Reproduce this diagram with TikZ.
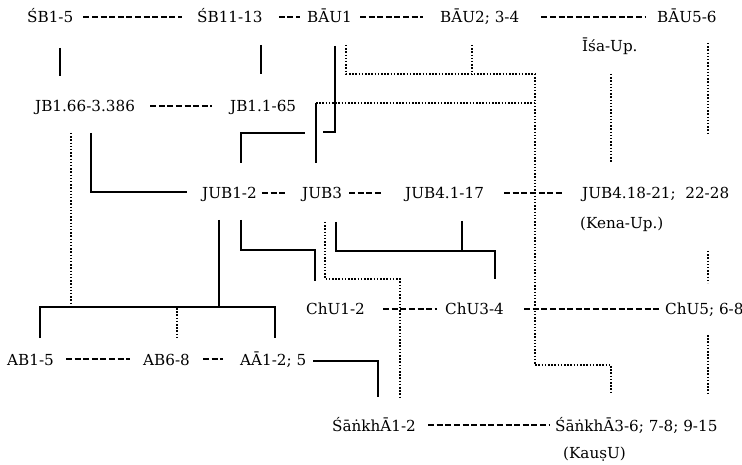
\documentclass[tikz,border=0pt]{standalone}
\usepackage{fontspec}
\setmainfont{DejaVu Serif}
\begin{document}
\begin{tikzpicture}[x=1pt,y=-1pt,
  txt/.style={inner sep=0pt, anchor=base west, font=\fontsize{15.2}{18}\selectfont},
  dsh/.style={line width=1.2pt, dash pattern=on 6pt off 2.6pt},
  sol/.style={line width=1.2pt},
  dot/.style={line width=1.7pt, dash pattern=on 1.5pt off 1.7pt}]
\useasboundingbox (0,0) rectangle (742,465);
% nodes
\node[txt] (sb1)  at (27,23)  {ŚB1-5};
\node[txt] (sb11) at (197,23) {ŚB11-13};
\node[txt] (bau1) at (307,23) {BĀU1};
\node[txt] (bau2) at (440,23) {BĀU2; 3-4};
\node[txt] (bau5) at (657,23) {BĀU5-6};
\node[txt] (isa)  at (582,52) {Īśa-Up.};
\node[txt] (jb66) at (35,112) {JB1.66-3.386};
\node[txt] (jb1)  at (230,112) {JB1.1-65};
\node[txt] (jub12) at (202,199) {JUB1-2};
\node[txt] (jub3) at (302,199) {JUB3};
\node[txt] (jub41) at (405,199) {JUB4.1-17};
\node[txt] (jub418) at (582,199) {JUB4.18-21;\ \ 22-28};
\node[txt] (kena) at (580,229) {(Kena-Up.)};
\node[txt] (chu12) at (306,315) {ChU1-2};
\node[txt] (chu34) at (445,315) {ChU3-4};
\node[txt] (chu5) at (665,315) {ChU5; 6-8};
\node[txt] (ab1) at (7,365) {AB1-5};
\node[txt] (ab6) at (143,365) {AB6-8};
\node[txt] (aa) at (240,365) {AĀ1-2; 5};
\node[txt] (sa1) at (332,431) {ŚāṅkhĀ1-2};
\node[txt] (sa3) at (555,431) {ŚāṅkhĀ3-6; 7-8; 9-15};
\node[txt] (kau) at (563,458) {(KauṣU)};
% dashed horizontal connectors
\draw[dsh, shorten <=10pt, shorten >=15pt] ([yshift=6pt]sb1.base east) -- ([yshift=6pt]sb11.base west);
\draw[dsh, shorten <=16pt, shorten >=7pt] ([yshift=6pt]sb11.base east) -- ([yshift=6pt]bau1.base west);
\draw[dsh, shorten <=8pt, shorten >=17pt] ([yshift=6pt]bau1.base east) -- ([yshift=6pt]bau2.base west);
\draw[dsh, shorten <=22pt, shorten >=11pt] ([yshift=6pt]bau2.base east) -- ([yshift=6pt]bau5.base west);
\draw[dsh, shorten <=15pt, shorten >=18pt] ([yshift=6pt]jb66.base east) -- ([yshift=6pt]jb1.base west);
\draw[dsh, shorten <=5pt, shorten >=15pt] ([yshift=6pt]jub12.base east) -- ([yshift=6pt]jub3.base west);
\draw[dsh, shorten <=7pt, shorten >=22pt] ([yshift=6pt]jub3.base east) -- ([yshift=6pt]jub41.base west);
\draw[dsh, shorten <=20pt, shorten >=19pt] ([yshift=6pt]jub41.base east) -- ([yshift=6pt]jub418.base west);
\draw[dsh, shorten <=18pt, shorten >=8pt] ([yshift=6pt]chu12.base east) -- ([yshift=6pt]chu34.base west);
\draw[dsh, shorten <=20pt, shorten >=5pt] ([yshift=6pt]chu34.base east) -- ([yshift=6pt]chu5.base west);
\draw[dsh, shorten <=12pt, shorten >=13pt] ([yshift=6pt]ab1.base east) -- ([yshift=6pt]ab6.base west);
\draw[dsh, shorten <=13pt, shorten >=17pt] ([yshift=6pt]ab6.base east) -- ([yshift=6pt]aa.base west);
\draw[dsh, shorten <=12pt, shorten >=5pt] ([yshift=6pt]sa1.base east) -- ([yshift=6pt]sa3.base west);
% solid connectors
\draw[sol] (60,48) -- (60,76);
\draw[sol] (261,45) -- (261,74);
\draw[sol] (335,46) -- (335,132) -- (323,132);
\draw[sol] (241,163) -- (241,133) -- (305,133);
\draw[sol] (316,103) -- (316,163);
\draw[sol] (91,133) -- (91,192) -- (187,192);
\draw[sol] (219,220) -- (219,307);
\draw[sol] (40,338) -- (40,307) -- (275,307) -- (275,338);
\draw[sol] (241,220) -- (241,250) -- (315,250) -- (315,281);
\draw[sol] (336,222) -- (336,251) -- (495,251) -- (495,279);
\draw[sol] (462,221) -- (462,251);
\draw[sol] (313,361) -- (378,361) -- (378,397);
% dotted connectors
\draw[dot] (346,45) -- (346,74) -- (535,74);
\draw[dot] (472,45) -- (472,74);
\draw[dot] (535,74) -- (535,365) -- (611,365) -- (611,393);
\draw[dot] (316,103) -- (535,103);
\draw[dot] (611,74) -- (611,162);
\draw[dot] (708,43) -- (708,133);
\draw[dot] (708,251) -- (708,283);
\draw[dot] (708,335) -- (708,393);
\draw[dot] (71,133) -- (71,307);
\draw[dot] (177,308) -- (177,337);
\draw[dot] (325,222) -- (325,279) -- (400,279) -- (400,397);
\end{tikzpicture}
\end{document}
